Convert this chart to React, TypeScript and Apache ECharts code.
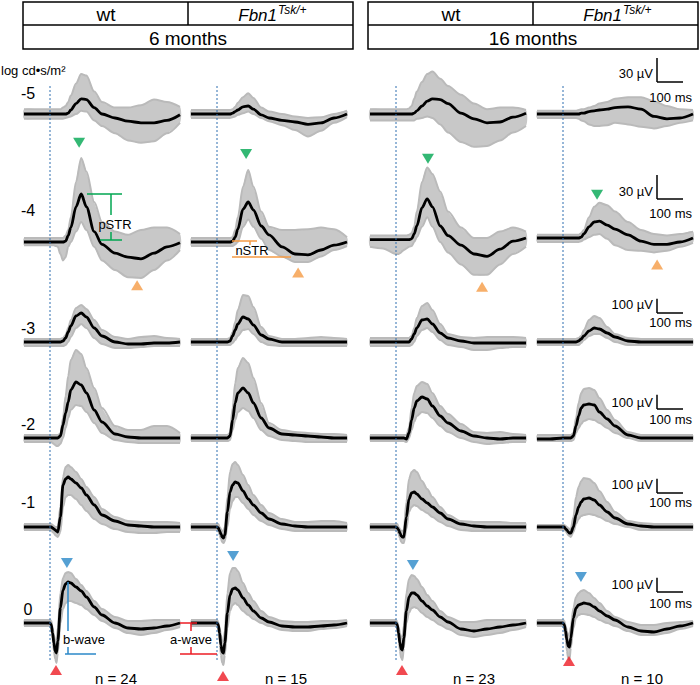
import React, { useEffect, useRef } from 'react';
import * as echarts from 'echarts';

// ---------- data (time in ms after flash, amplitude in µV) ----------
const TIME_MS = [-100, -50, 0, 5, 10, 15, 20, 25, 30, 40, 50, 60, 70, 80, 100, 120, 140, 170, 200, 250, 300, 350, 400, 450, 500];
const INTENSITY_LABELS = ['-5', '-4', '-3', '-2', '-1', '0'];
const GROUP_LABELS = ['6 months', '16 months'];
const N_LABELS = ['n = 24', 'n = 15', 'n = 23', 'n = 10'];
const SCALE_UV = [30, 30, 100, 100, 100, 100];
const SCALE_MS = 100;

// columns: wt 6m, Fbn1 6m, wt 16m, Fbn1 16m
const MEAN_M5 = [
  [0,0,0,0,0,0,0,0,0,0,0,0,1,5,13,19,18,8,0,-5,-9,-11,-11,-8,-1],
  [0,0,0,0,0,0,0,0,0,0,0,1,3,5,9,10,6,-1,-5,-8,-10,-13,-11,-5,0],
  [0,0,0,0,0,0,0,0,0,0,0,0,1,4,10,16,19,18,13,1,-6,-11,-10,-4,1],
  [0,0,0,0,0,0,0,0,0,0,0,0,1,1,3,4,5,6,8,9,6,-3,-6,-5,0],
];
const UPPER_M5 = [
  [6,6,6,6,6,6,6,6,6,6,8,10,15,23,38,50,48,28,15,8,8,11,18,15,9],
  [5,5,5,5,5,5,5,5,5,5,5,6,9,14,21,26,20,8,3,0,-3,-5,-4,0,4],
  [6,6,6,6,6,6,6,6,6,6,7,10,19,28,40,50,53,44,35,24,13,6,8,8,5],
  [4,4,4,4,4,4,4,4,4,4,4,5,6,6,8,10,13,15,19,21,21,16,10,6,5],
];
const LOWER_M5 = [
  [-6,-6,-6,-6,-6,-6,-6,-6,-6,-6,-6,-5,-4,-3,0,4,3,-8,-15,-24,-33,-36,-34,-24,-11],
  [-5,-5,-5,-5,-5,-5,-5,-5,-5,-5,-5,-4,-3,-1,1,3,0,-5,-9,-14,-20,-28,-21,-11,-4],
  [-8,-8,-8,-8,-8,-8,-8,-8,-8,-8,-8,-8,-8,-6,-5,-3,-5,-13,-23,-35,-41,-40,-33,-23,-15],
  [-5,-5,-5,-5,-5,-5,-5,-5,-5,-5,-5,-6,-8,-9,-13,-15,-15,-14,-11,-13,-16,-18,-15,-11,-8],
];

const MEAN_M4 = [
  [0,0,0,0,0,0,0,0,0,0,0,1,8,18,44,60,44,13,-3,-14,-19,-21,-14,-6,-1],
  [0,0,0,0,0,0,0,0,0,0,0,1,6,16,41,50,40,20,9,-6,-15,-16,-10,-4,0],
  [3,3,3,3,3,3,3,3,3,3,3,4,10,20,43,54,44,20,8,-4,-15,-18,-9,1,5],
  [5,5,5,5,5,5,5,5,5,5,5,5,6,10,19,25,26,21,16,9,1,-3,-3,0,5],
];
const UPPER_M4 = [
  [5,5,5,5,5,5,5,5,5,5,5,8,15,31,75,105,88,50,25,13,9,15,18,18,10],
  [5,5,5,5,5,5,5,5,5,5,5,6,15,31,69,90,69,38,19,15,15,16,18,16,6],
  [8,8,8,8,8,8,8,8,8,8,9,11,19,38,75,93,85,63,38,18,5,5,13,18,13],
  [9,9,9,9,9,9,9,9,9,9,9,9,11,15,31,44,49,46,38,25,15,10,8,10,13],
];
const LOWER_M4 = [
  [-4,-4,-4,-4,-4,-4,-5,-5,-6,-15,-23,-19,-6,0,13,25,15,-6,-23,-35,-44,-45,-35,-23,-10],
  [-5,-5,-5,-5,-5,-5,-5,-5,-5,-5,-5,-5,-3,0,19,28,19,4,-10,-18,-25,-25,-18,-10,-5],
  [-6,-8,-15,-15,-15,-14,-13,-11,-10,-8,-6,-5,0,6,19,31,19,0,-13,-28,-41,-41,-28,-15,-6],
  [0,0,0,0,0,0,0,0,0,0,0,0,1,3,6,9,10,4,-4,-10,-11,-13,-11,-6,-1],
];

const MEAN_M3 = [
  [0,0,0,0,0,0,0,0,0,0,7,28,70,112,182,203,175,98,42,0,-14,-14,-7,-7,0],
  [0,0,0,0,0,0,0,0,0,0,7,42,84,126,175,161,119,49,21,0,0,0,0,0,0],
  [0,0,0,0,0,0,0,0,0,0,0,21,56,98,154,161,126,63,28,7,-7,-7,-7,-7,-7],
  [0,0,0,0,0,0,0,0,0,0,0,7,21,42,77,98,91,63,35,7,0,0,0,0,0],
];
const UPPER_M3 = [
  [21,21,21,21,21,21,21,21,21,21,28,49,98,154,238,259,231,154,84,35,21,35,42,28,21],
  [21,21,21,21,21,21,21,21,21,21,28,70,140,224,329,322,245,105,42,21,21,28,35,28,21],
  [28,28,28,28,28,28,28,28,28,28,28,42,98,168,252,273,224,126,56,35,28,35,35,35,28],
  [21,21,21,21,21,21,21,21,21,21,21,28,42,84,154,182,168,105,56,28,21,21,21,21,21],
];
const LOWER_M3 = [
  [-28,-28,-28,-28,-28,-28,-28,-28,-28,-28,-28,-21,0,35,98,126,98,28,-14,-42,-42,-35,-28,-28,-28],
  [-21,-21,-21,-21,-21,-21,-21,-21,-21,-21,-21,-7,14,42,84,91,56,0,-21,-28,-28,-28,-28,-28,-28],
  [-28,-28,-28,-28,-28,-28,-28,-28,-28,-28,-28,-21,0,42,84,98,70,14,-21,-35,-56,-56,-42,-35,-35],
  [-21,-21,-21,-21,-21,-21,-21,-21,-21,-21,-21,-21,-7,14,42,56,56,28,0,-21,-21,-21,-21,-21,-21],
];

const MEAN_M2 = [
  [0,0,0,0,0,0,0,0,0,14,91,175,252,336,392,371,315,196,112,28,7,0,0,0,0],
  [0,0,0,0,0,0,0,0,0,0,14,126,245,315,350,315,245,140,70,28,21,14,7,0,0],
  [0,0,0,0,0,0,0,0,0,-7,35,126,210,259,287,273,224,154,105,49,14,0,-7,0,0],
  [-7,-7,0,0,0,0,0,0,0,14,84,154,210,231,238,231,182,133,84,21,0,0,0,0,0],
];
const UPPER_M2 = [
  [21,21,21,21,21,21,21,21,21,28,140,294,434,546,616,588,490,350,210,84,56,56,84,84,35],
  [21,21,21,21,21,21,21,21,21,21,35,210,385,490,560,525,420,245,105,56,42,35,28,28,21],
  [21,21,21,21,21,21,21,21,21,21,70,210,315,364,392,378,315,224,168,98,42,35,42,28,21],
  [21,21,21,21,21,21,21,21,21,35,140,245,315,343,350,336,280,196,126,42,21,21,21,21,21],
];
const LOWER_M2 = [
  [-28,-28,-28,-28,-35,-42,-49,-56,-56,-42,0,70,140,196,231,224,182,105,35,-14,-28,-35,-35,-35,-35],
  [-21,-21,-21,-21,-21,-21,-21,-21,-21,-21,-14,56,126,182,210,189,140,56,14,-14,-21,-28,-28,-28,-28],
  [-21,-21,-21,-21,-21,-21,-21,-21,-21,-28,0,56,112,154,182,175,140,84,42,0,-28,-42,-35,-28,-28],
  [-21,-21,-21,-21,-21,-21,-21,-21,-21,-14,35,70,98,119,133,126,105,70,35,0,-21,-21,-21,-21,-21],
];

const MEAN_M1 = [
  [0,0,0,0,-7,-14,-21,-28,-35,70,294,336,350,336,308,273,224,154,84,42,14,7,0,0,0],
  [0,0,0,-7,-28,-49,-70,-77,-56,105,245,294,315,308,252,196,154,98,56,21,7,0,0,0,0],
  [0,0,0,-7,-21,-42,-63,-70,-70,70,196,238,245,231,196,168,140,98,56,21,7,0,0,0,0],
  [0,0,0,0,-14,-21,-35,-42,-42,0,84,140,175,196,203,189,154,105,63,21,7,0,0,0,0],
];
const UPPER_M1 = [
  [21,21,21,21,14,7,0,0,0,140,350,420,434,420,385,336,280,210,126,70,42,35,35,35,28],
  [21,21,21,21,0,-14,-28,-28,0,210,385,441,455,434,364,294,224,154,98,56,35,35,42,42,28],
  [21,21,21,21,0,-14,-28,-28,-21,175,336,385,399,385,322,266,210,140,84,42,35,35,35,28,28],
  [14,14,14,14,7,0,-7,-14,-14,70,210,280,322,343,336,308,252,175,105,42,28,21,21,21,21],
];
const LOWER_M1 = [
  [-21,-21,-21,-21,-35,-42,-56,-63,-70,-35,140,210,224,224,196,154,112,56,21,-14,-35,-42,-42,-35,-35],
  [-21,-21,-21,-28,-56,-84,-105,-112,-98,0,126,182,210,210,168,126,84,42,14,-14,-28,-28,-28,-28,-28],
  [-21,-21,-21,-28,-49,-77,-105,-112,-112,-14,105,140,154,147,119,98,70,35,7,-21,-28,-28,-28,-28,-28],
  [-21,-21,-21,-21,-28,-42,-56,-63,-70,-35,21,56,77,84,91,84,70,42,21,0,-21,-21,-21,-21,-21],
];

const MEAN_0 = [
  [0,0,0,-14,-70,-140,-196,-210,-126,105,231,273,287,280,252,224,182,112,56,0,-35,-42,-35,-21,0],
  [0,0,0,-14,-70,-154,-203,-210,-140,70,196,238,245,231,175,126,84,35,7,-21,-28,-28,-21,-14,0],
  [0,0,0,-14,-70,-140,-182,-189,-105,84,182,210,210,196,154,119,91,42,7,-42,-56,-42,-28,-14,0],
  [0,0,0,-14,-56,-119,-161,-168,-105,35,105,126,133,140,133,112,84,49,21,-28,-56,-63,-42,-21,0],
];
const UPPER_0 = [
  [21,21,21,14,-35,-84,-126,-140,-35,210,315,350,357,350,308,266,224,154,98,42,14,14,21,21,21],
  [21,21,21,7,-35,-84,-126,-140,-56,210,350,385,385,364,280,210,154,84,42,14,7,7,14,14,21],
  [21,21,21,7,-28,-70,-105,-105,-21,210,308,336,329,308,252,196,154,84,42,7,7,21,21,21,21],
  [21,21,21,14,-21,-56,-84,-84,-28,105,182,210,224,231,210,175,140,84,42,7,-14,-14,0,7,14],
];
const LOWER_0 = [
  [-21,-21,-21,-35,-105,-196,-252,-280,-210,0,98,140,154,154,140,126,98,56,14,-35,-70,-84,-70,-49,-28],
  [-21,-21,-21,-35,-126,-224,-280,-294,-224,-35,84,126,140,126,84,56,28,0,-21,-49,-56,-56,-42,-35,-21],
  [-21,-21,-21,-35,-105,-196,-245,-259,-175,0,70,105,112,105,70,42,21,-14,-42,-84,-98,-84,-70,-49,-28],
  [-21,-21,-21,-35,-105,-196,-245,-259,-175,-35,35,56,63,63,56,42,21,0,-21,-56,-84,-84,-70,-42,-21],
];

// annotation markers [ms, µV]
const PSTR_MARKS = [[112, 124], [112, 110], [123, 104], [131, 59]];
const NSTR_MARKS = [[335, -54], [312, -38], [331, -56], [362, -28]];
const BWAVE_MARKS = [[65, 420], [62, 469], [65, 406], [69, 322]];
const AWAVE_MARKS = [[23, -329], [23, -371], [23, -329], [23, -266]];

// ---------- layout ----------
const W = 700;
const H = 685;
const FONT = '"Liberation Sans", Arial, sans-serif';
const COL_LEFT = [24, 191, 370, 537];
const PANEL_W = 156;
const ROW_BASE = [114, 242, 342, 438, 527, 623];
const PX_PER_UV = [0.8, 0.8, 1 / 7, 1 / 7, 1 / 7, 1 / 7];
const HALF = 130;
const T_MIN = -100;
const T_MAX = 500;
const PX_PER_MS = PANEL_W / (T_MAX - T_MIN);
const ROW_LABEL_Y = [93, 210, 328, 424, 502, 609];
const BAR_X = 657;
const BAR_BOTTOM = [82, 199, 313, 409, 493, 592];
const UV_LABEL_Y = [73, 191, 304, 402, 484, 584];
const MS_LABEL_Y = [97, 213, 322, 419, 502, 603];
const N_X = [116, 286, 474, 642];

const GRAY_FILL = '#c8c8c8';
const GRAY_EDGE = '#bababa';
const GREEN = '#00a651';
const ORANGE = '#f59b45';
const BLUE = '#2b88c8';
const RED = '#ed1c24';

const ROWS = [
  { mean: MEAN_M5, upper: UPPER_M5, lower: LOWER_M5 },
  { mean: MEAN_M4, upper: UPPER_M4, lower: LOWER_M4 },
  { mean: MEAN_M3, upper: UPPER_M3, lower: LOWER_M3 },
  { mean: MEAN_M2, upper: UPPER_M2, lower: LOWER_M2 },
  { mean: MEAN_M1, upper: UPPER_M1, lower: LOWER_M1 },
  { mean: MEAN_0, upper: UPPER_0, lower: LOWER_0 },
];

function line(x1: number, y1: number, x2: number, y2: number, stroke: string, lineWidth = 1.5, lineDash?: number[]) {
  const style: any = { stroke, lineWidth };
  if (lineDash) style.lineDash = lineDash;
  return { type: 'line', silent: true, z: 10, shape: { x1, y1, x2, y2 }, style };
}
function text(t: string, x: number, y: number, size: number, align = 'center', italic = false) {
  return {
    type: 'text', silent: true, z: 11,
    style: {
      text: t, x, y, fill: '#000', font: `${italic ? 'italic ' : ''}${size}px ${FONT}`,
      textAlign: align, textVerticalAlign: 'middle', align, verticalAlign: 'middle',
    },
  };
}

function buildOption() {
  const grid: any[] = [];
  const xAxis: any[] = [];
  const yAxis: any[] = [];
  const series: any[] = [];
  const smooth = 0.3;

  ROWS.forEach((row, r) => {
    const k = PX_PER_UV[r];
    const top = Math.max(0, ROW_BASE[r] - HALF);
    const bottom = Math.min(H, ROW_BASE[r] + HALF);
    COL_LEFT.forEach((left, c) => {
      const idx = r * 4 + c;
      grid.push({ left, width: PANEL_W, top, height: bottom - top });
      xAxis.push({ type: 'value', gridIndex: idx, min: T_MIN, max: T_MAX, show: false, splitLine: { show: false } });
      yAxis.push({
        type: 'value', gridIndex: idx, show: false, splitLine: { show: false },
        min: -(bottom - ROW_BASE[r]) / k, max: (ROW_BASE[r] - top) / k,
      });
      const lower = row.lower[c];
      const upper = row.upper[c];
      const mean = row.mean[c];
      // gray band (spread of individual traces)
      series.push({
        type: 'custom', coordinateSystem: 'cartesian2d', xAxisIndex: idx, yAxisIndex: idx, silent: true,
        data: [[0, 0]],
        renderItem: (_p: any, api: any) => {
          const pts = TIME_MS.map((t, i) => api.coord([t, upper[i]]))
            .concat(TIME_MS.map((t, i) => api.coord([t, lower[i]])).reverse());
          return { type: 'polygon', shape: { points: pts, smooth: 0.25 }, style: { fill: GRAY_FILL } };
        },
        z: 1,
      });
      const base = { type: 'line', xAxisIndex: idx, yAxisIndex: idx, symbol: 'none', smooth, smoothMonotone: 'x', silent: true, z: 2 };
      series.push({ ...base, data: TIME_MS.map((t, i) => [t, upper[i]]), lineStyle: { color: GRAY_EDGE, width: 2 } });
      series.push({ ...base, data: TIME_MS.map((t, i) => [t, lower[i]]), lineStyle: { color: GRAY_EDGE, width: 2 } });
      series.push({ ...base, z: 3, data: TIME_MS.map((t, i) => [t, mean[i]]), lineStyle: { color: '#000', width: 2.8 } });
    });
  });

  const marker = (row: number, marks: number[][], color: string, down: boolean) => {
    marks.forEach((m, c) => {
      const idx = row * 4 + c;
      series.push({
        type: 'scatter', xAxisIndex: idx, yAxisIndex: idx, silent: true,
        symbol: 'triangle', symbolSize: [12, 10], symbolRotate: down ? 180 : 0,
        itemStyle: { color }, data: [m], z: 5,
      });
    });
  };
  marker(1, PSTR_MARKS, GREEN, true);
  marker(1, NSTR_MARKS, ORANGE, false);
  marker(5, BWAVE_MARKS, BLUE, true);
  marker(5, AWAVE_MARKS, RED, false);

  const graphic: any[] = [];
  // header boxes
  [[23, 188, 353], [368, 533, 698]].forEach(([l, mid, r]) => {
    graphic.push({ type: 'rect', silent: true, z: 10, shape: { x: l, y: 2, width: r - l, height: 47 }, style: { fill: 'none', stroke: '#000', lineWidth: 1.5 } });
    graphic.push(line(l, 25, r, 25, '#000', 1.5));
    graphic.push(line(mid, 2, mid, 25, '#000', 1.5));
  });
  graphic.push(text('wt', 106, 14, 19));
  graphic.push(text('wt', 451, 14, 19));
  graphic.push(text(GROUP_LABELS[0], 188, 38, 19));
  graphic.push(text(GROUP_LABELS[1], 533, 38, 19));
  [[277, 15], [622, 15]].forEach(([x, y]) => {
    graphic.push(text('Fbn1', x, y, 17, 'right', true));
    graphic.push(text('Tsk/+', x + 1, y - 5, 12, 'left', true));
  });

  // row labels
  graphic.push(text('log cd•s/m²', 1, 70, 13, 'left'));
  INTENSITY_LABELS.forEach((lab, r) => graphic.push(text(lab, 28, ROW_LABEL_Y[r], 16)));

  // flash lines
  COL_LEFT.forEach((left) => {
    const x = left + (0 - T_MIN) * PX_PER_MS;
    graphic.push(line(x, 86, x, 660, '#2f6fb0', 1, [2, 2]));
  });

  // scale bars
  SCALE_UV.forEach((uv, r) => {
    const len = uv * PX_PER_UV[r];
    const b = BAR_BOTTOM[r];
    graphic.push(line(BAR_X, b - len, BAR_X, b, '#000', 1.5));
    graphic.push(line(BAR_X, b, BAR_X + SCALE_MS * PX_PER_MS, b, '#000', 1.5));
    graphic.push(text(`${uv} µV`, BAR_X - 4, UV_LABEL_Y[r], 13, 'right'));
    graphic.push(text(`${SCALE_MS} ms`, 692, MS_LABEL_Y[r], 13, 'right'));
  });

  // n labels
  N_LABELS.forEach((lab, c) => graphic.push(text(lab, N_X[c], 678, 15)));

  // pSTR bracket
  graphic.push(line(87, 194, 122, 194, GREEN, 1.5));
  graphic.push(line(100, 240, 122, 240, GREEN, 1.5));
  graphic.push(line(111, 194, 111, 215, GREEN, 1.5));
  graphic.push(line(111, 232, 111, 240, GREEN, 1.5));
  graphic.push(text('pSTR', 115, 224, 13));
  // nSTR bracket
  graphic.push(line(232, 241, 257, 241, ORANGE, 1.5));
  graphic.push(line(250, 241, 250, 245, ORANGE, 1.5));
  graphic.push(line(232, 257, 291, 257, ORANGE, 1.5));
  graphic.push(text('nSTR', 252, 250, 13));
  // b-wave bracket
  graphic.push(line(68, 582, 68, 631, BLUE, 1.5));
  graphic.push(line(68, 647, 68, 654, BLUE, 1.5));
  graphic.push(line(65, 654, 96, 654, BLUE, 1.5));
  graphic.push(text('b-wave', 84, 639, 13));
  // a-wave bracket
  graphic.push(line(180, 623, 197, 623, RED, 1.5));
  graphic.push(line(191, 623, 191, 631, RED, 1.5));
  graphic.push(line(191, 647, 191, 654, RED, 1.5));
  graphic.push(line(180, 654, 217, 654, RED, 1.5));
  graphic.push(text('a-wave', 191, 639, 13));

  return { animation: false, grid, xAxis, yAxis, series, graphic };
}

export default function App() {
  const ref = useRef<HTMLDivElement>(null);
  useEffect(() => {
    if (!ref.current) return;
    const chart = echarts.init(ref.current, undefined, { renderer: 'svg' });
    chart.setOption(buildOption() as any);
    return () => chart.dispose();
  }, []);
  return <div ref={ref} style={{ position: 'absolute', left: 0, top: 0, width: W, height: H, background: '#fff' }} />;
}
